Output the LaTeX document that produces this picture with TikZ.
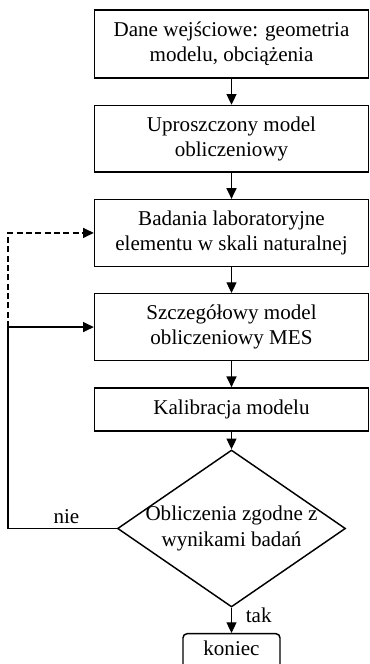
\documentclass[tikz,border=0pt]{standalone}
\usepackage{fontspec}
\setmainfont{Liberation Serif}
\usepackage{tikz}
\usetikzlibrary{shapes.geometric, arrows.meta, positioning}

\begin{document}
\begin{tikzpicture}[
    x=0.75pt, y=0.75pt,
    node distance=19.5pt,
    font=\fontsize{15.8pt}{19pt}\selectfont,
    stepbox/.style={draw=black, line width=1.1pt, align=center, minimum width=205.5pt, minimum height=50pt, inner sep=2pt},
    decision/.style={draw=black, line width=1.1pt, diamond, inner sep=0pt, minimum width=171pt, minimum height=117.75pt},
    endbox/.style={draw=black, line width=1.1pt, rounded corners=3pt, minimum width=72.75pt, text height=14.5pt, text depth=10pt, inner sep=2pt},
    arrow/.style={draw=black, line width=0.9pt, -{Triangle[length=8pt, width=7.5pt]}}
]
\useasboundingbox (0,0) rectangle (370,664);

% main column
\node[stepbox, minimum height=51pt] (input) at (231.5, 620) {Dane wejściowe: geometria \\ modelu, obciążenia};
\node[stepbox, below=of input] (simple) {Uproszczony model \\ obliczeniowy};
\node[stepbox, below=of simple] (lab) {Badania laboratoryjne \\ elementu w skali naturalnej};
\node[stepbox, below=of lab] (mes) {Szczegółowy model \\ obliczeniowy MES};
\node[stepbox, minimum height=32.25pt, below=of mes] (calib) {Kalibracja modelu};
\node[decision, label={[align=center]center:Obliczenia zgodne z \\ wynikami badań}] (check) at (231.5, 135.5) {};
\node[endbox, anchor=north] (stop) at (231.5, 31) {koniec};

\draw[arrow] (input) -- (simple);
\draw[arrow] (simple) -- (lab);
\draw[arrow] (lab) -- (mes);
\draw[arrow] (mes) -- (calib);
\draw[arrow] (calib) -- (check);
\draw[arrow] (check) -- node[right, pos=0.3, xshift=7pt] {tak} (stop);

% feedback loop
\coordinate (loop) at (8, 0);
\draw[arrow] (check.west) -- node[above, xshift=3pt] {nie} (check.west -| loop) |- (mes.west);
\draw[arrow, dash pattern=on 4.5pt off 2.5pt] (mes.west -| loop) |- (lab.west);

\end{tikzpicture}
\end{document}
